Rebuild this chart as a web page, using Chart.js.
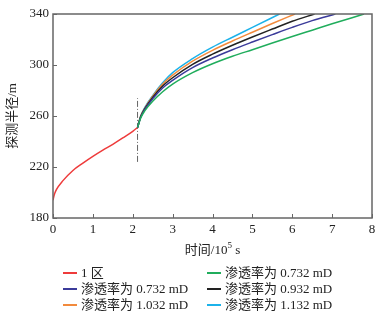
<!DOCTYPE html>
<html>
<head>
<meta charset="utf-8">
<script src="https://cdn.jsdelivr.net/npm/chart.js@4.4.0/dist/chart.umd.min.js"></script>
<style>
  html, body { margin: 0; padding: 0; background: #fff; }
  #wrap { position: relative; width: 386px; height: 319px; }
  #legend { position: absolute; left: 0; top: 0; width: 386px; height: 319px; pointer-events: none;
    font-family: "Liberation Serif", "Noto Sans CJK SC", serif; font-size: 13px; color: #222; }
  .item { position: absolute; height: 16px; line-height: 16px; white-space: nowrap; }
  .sw { position: absolute; top: 7px; width: 14px; height: 2px; }
  .lbl { position: absolute; left: 18px; top: 0; }
</style>
</head>
<body>
<div id="wrap">
  <canvas id="c" width="386" height="319"></canvas>
  <div id="legend"></div>
</div>
<script>
// zone 1 curve (before the boundary)
const zone1X = [0, 0.03, 0.085, 0.25, 0.5, 0.75, 1.0, 1.25, 1.5, 1.75, 2.0, 2.12];
const zone1Y = [194, 198, 202.2, 209.3, 217.3, 223, 228.3, 233.2, 237.8, 242.8, 248, 251];

// zone 2 curves for different permeability
const cyanX = [2.12, 2.2, 2.3, 2.5, 2.75, 3, 3.5, 4, 4.5, 5, 5.68];
const cyanY = [251, 260, 266.5, 276, 286, 294, 305, 314, 321.8, 329.5, 340];
const orangeX = [2.12, 2.2, 2.3, 2.5, 2.75, 3, 3.5, 4, 4.5, 5, 5.5, 6.07];
const orangeY = [251, 260, 266, 275.5, 285, 292, 303, 311.5, 318.8, 325.7, 332.5, 340];
const blackX = [2.12, 2.2, 2.3, 2.5, 2.75, 3, 3.5, 4, 4.5, 5, 5.5, 6, 6.56];
const blackY = [251, 259.5, 265.5, 274.5, 283.5, 290, 300.5, 308.5, 315.5, 322, 328.2, 334.3, 340];
const blueX = [2.12, 2.2, 2.3, 2.5, 2.75, 3, 3.5, 4, 4.5, 5, 5.5, 6, 6.5, 7.08];
const blueY = [251, 259, 265, 273.5, 282, 288, 298, 305.5, 312, 318, 323.8, 329.5, 334.8, 340];
const greenX = [2.12, 2.2, 2.3, 2.5, 2.75, 3, 3.5, 4, 4.5, 5, 5.5, 6, 6.5, 7, 7.5, 7.8];
const greenY = [251, 258.5, 264, 271.5, 279, 285, 294, 301, 306.8, 312, 317.2, 322.3, 327.3, 332.3, 337, 340];

// boundary marker
const boundX = [2.12, 2.12];
const boundY = [224, 274];

const xTicks = [0, 1, 2, 3, 4, 5, 6, 7, 8];
const yTicks = [180, 220, 260, 300, 340];

const legendNames = ['1 区', '渗透率为 0.732 mD', '渗透率为 1.032 mD',
                     '渗透率为 0.732 mD', '渗透率为 0.932 mD', '渗透率为 1.132 mD'];
const legendColors = ['#ee3b3b', '#3b3b9a', '#f28a3c', '#20ad5c', '#222222', '#1cb2ea'];

function pts(xs, ys) {
    return xs.map(function(x, i) { return {x: x, y: ys[i]}; });
}

function line(data, color) {
    return { data: data, borderColor: color, borderWidth: 1.5, pointRadius: 0,
             fill: false, cubicInterpolationMode: 'monotone' };
}

const datasets = [
    line(pts(greenX, greenY), legendColors[3]),
    line(pts(blueX, blueY), legendColors[1]),
    line(pts(blackX, blackY), legendColors[4]),
    line(pts(orangeX, orangeY), legendColors[2]),
    line(pts(cyanX, cyanY), legendColors[5]),
    line(pts(zone1X, zone1Y), legendColors[0]),
    { data: pts(boundX, boundY), borderColor: '#666', borderWidth: 1, borderDash: [6, 2, 1, 2],
      pointRadius: 0, fill: false }
];

const fontSerif = "'Liberation Serif', 'Noto Sans CJK SC', serif";

// inward ticks, frame and x title with superscript
const framePlugin = {
    id: 'frame',
    afterDraw: function(chart) {
        const ctx = chart.ctx;
        const a = chart.chartArea;
        const xs = chart.scales.x, ys = chart.scales.y;
        ctx.save();
        ctx.strokeStyle = '#666';
        ctx.lineWidth = 1.5;
        ctx.strokeRect(a.left, a.top, a.right - a.left, a.bottom - a.top);
        ctx.lineWidth = 1;
        xTicks.forEach(function(v) {
            const px = Math.round(xs.getPixelForValue(v)) + 0.5;
            ctx.beginPath(); ctx.moveTo(px, a.bottom); ctx.lineTo(px, a.bottom - 4); ctx.stroke();
        });
        yTicks.forEach(function(v) {
            const py = Math.round(ys.getPixelForValue(v)) + 0.5;
            ctx.beginPath(); ctx.moveTo(a.left, py); ctx.lineTo(a.left + 4, py); ctx.stroke();
        });
        // x axis title
        ctx.fillStyle = '#222';
        ctx.textBaseline = 'alphabetic';
        ctx.font = '13px ' + fontSerif;
        const t1 = '时间/10', t2 = '5', t3 = ' s';
        const w1 = ctx.measureText(t1).width, w3 = ctx.measureText(t3).width;
        ctx.font = '9px ' + fontSerif;
        const w2 = ctx.measureText(t2).width;
        let x0 = (a.left + a.right) / 2 - (w1 + w2 + w3) / 2;
        const base = 254;
        ctx.font = '13px ' + fontSerif;
        ctx.fillText(t1, x0, base);
        ctx.font = '9px ' + fontSerif;
        ctx.fillText(t2, x0 + w1, base - 6);
        ctx.font = '13px ' + fontSerif;
        ctx.fillText(t3, x0 + w1 + w2, base);
        ctx.restore();
    }
};

new Chart(document.getElementById('c'), {
    type: 'line',
    data: { datasets: datasets },
    options: {
        responsive: false,
        animation: false,
        layout: { padding: { left: 0, right: 14, top: 14, bottom: 0 } },
        plugins: { legend: { display: false }, tooltip: { enabled: false } },
        scales: {
            x: {
                type: 'linear', min: 0, max: 8,
                afterBuildTicks: function(s) { s.ticks = xTicks.map(function(v) { return {value: v}; }); },
                afterFit: function(s) { s.height = 101; },
                grid: { display: false, drawTicks: false },
                border: { display: false },
                ticks: { color: '#222', padding: 4, maxRotation: 0, font: { family: fontSerif, size: 13 } }
            },
            y: {
                type: 'linear', min: 180, max: 340,
                afterBuildTicks: function(s) { s.ticks = yTicks.map(function(v) { return {value: v}; }); },
                afterFit: function(s) { s.width = 53; },
                grid: { display: false, drawTicks: false },
                border: { display: false },
                ticks: { color: '#222', padding: 4, font: { family: fontSerif, size: 13 } },
                title: { display: true, text: '探测半径/m', color: '#222', padding: { top: 5, bottom: 0 },
                         font: { family: fontSerif, size: 13 } }
            }
        }
    },
    plugins: [framePlugin]
});

// legend in two columns, column-major order as in the figure
const legend = document.getElementById('legend');
const colLeft = [63, 207];
const rowTop = [265, 281, 297];
legendNames.forEach(function(name, i) {
    const col = Math.floor(i / 3), row = i % 3;
    const d = document.createElement('div');
    d.className = 'item';
    d.style.left = colLeft[col] + 'px';
    d.style.top = rowTop[row] + 'px';
    d.innerHTML = '<span class="sw" style="background:' + legendColors[i] + '"></span>' +
                  '<span class="lbl"></span>';
    d.querySelector('.lbl').textContent = name;
    legend.appendChild(d);
});
</script>
</body>
</html>
